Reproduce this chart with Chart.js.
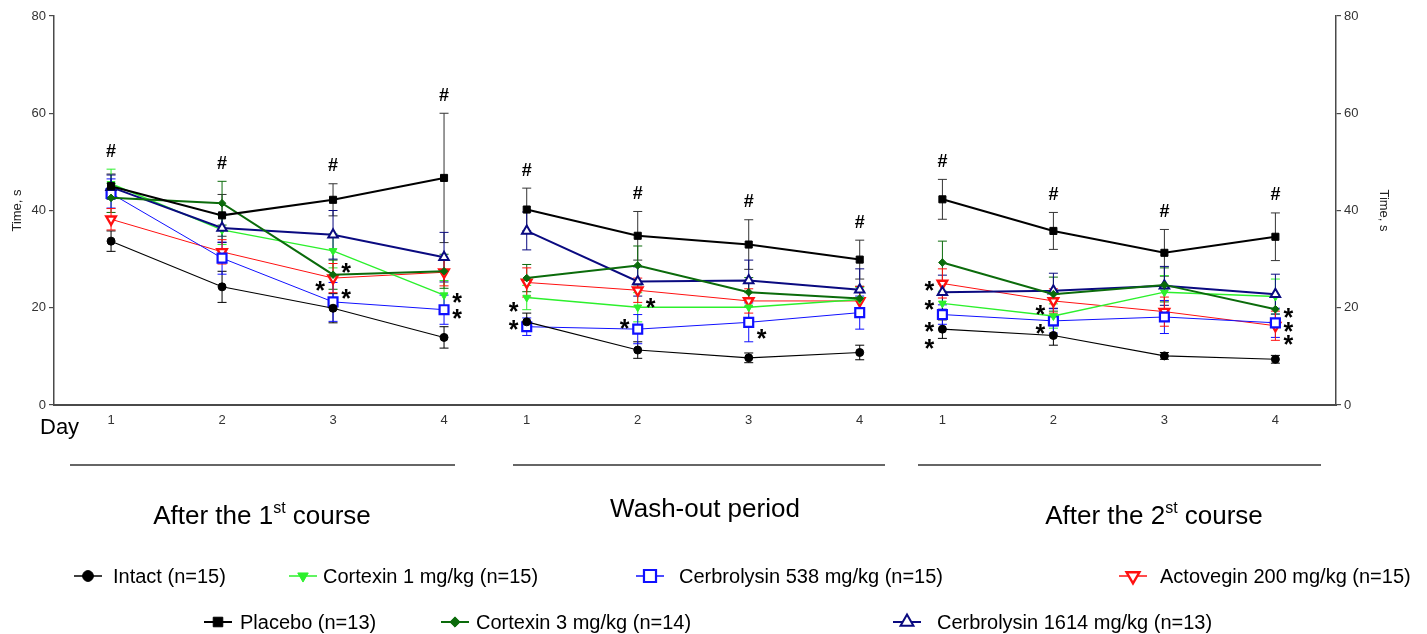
<!DOCTYPE html>
<html>
<head>
<meta charset="utf-8">
<script src="https://cdn.jsdelivr.net/npm/chart.js@4.4.1/dist/chart.umd.min.js"></script>
<style>
  html, body { margin: 0; padding: 0; background: #fff; }
  #wrap { position: relative; width: 1427px; height: 634px; }
</style>
</head>
<body>
<div id="wrap"><canvas id="chart" width="1427" height="634"></canvas></div>
<script>
// ===== data (3 periods x 4 days) =====
const days = [1, 2, 3, 4];
const periods = [
    ['After the 1', 'st', ' course'],
    ['Wash-out period', '', ''],
    ['After the 2', 'st', ' course']
];

const intact       = [33.7, 24.3, 19.9, 13.9, 17.1, 11.3, 9.7, 10.8, 15.6, 14.3, 10.1, 9.4];
const intactSE     = [2.1, 3.2, 3.0, 2.2, 1.8, 1.7, 1.0, 1.5, 1.9, 2.0, 0.7, 0.8];
const placebo      = [45.0, 39.0, 42.2, 46.7, 40.2, 34.8, 33.0, 29.9, 42.3, 35.8, 31.3, 34.6];
const placeboSE    = [2.5, 4.3, 3.3, 13.3, 4.4, 5.0, 5.1, 4.0, 4.1, 3.8, 4.8, 4.9];
const cortexin1    = [45.5, 36.0, 31.7, 22.6, 22.1, 20.1, 20.1, 21.7, 20.9, 18.3, 23.2, 22.3];
const cortexin1SE  = [3.0, 3.0, 3.5, 3.0, 2.5, 3.0, 3.0, 2.5, 2.5, 2.5, 3.4, 3.6];
const cortexin3    = [42.6, 41.5, 26.8, 27.5, 26.1, 28.7, 23.2, 21.9, 29.3, 22.8, 24.7, 19.7];
const cortexin3SE  = [3.0, 4.5, 3.0, 3.5, 2.8, 4.0, 3.0, 2.5, 4.4, 3.5, 3.5, 3.0];
const cerb538      = [43.5, 30.2, 21.2, 19.6, 16.1, 15.6, 17.0, 19.0, 18.6, 17.3, 18.1, 16.9];
const cerb538SE    = [3.0, 3.3, 4.0, 3.0, 1.8, 3.0, 4.0, 3.4, 2.0, 2.5, 3.4, 3.0];
const cerb1614     = [44.8, 36.4, 35.0, 30.4, 35.8, 25.4, 25.6, 23.7, 23.2, 23.5, 24.5, 22.8];
const cerb1614SE   = [2.5, 3.0, 5.0, 5.1, 3.9, 3.0, 4.2, 4.3, 3.5, 3.6, 4.0, 4.1];
const actovegin    = [38.2, 31.5, 26.1, 27.3, 25.2, 23.6, 21.4, 21.4, 25.0, 21.4, 19.2, 16.3];
const actoveginSE  = [2.2, 2.5, 3.0, 2.8, 3.0, 2.5, 2.5, 3.0, 3.0, 2.5, 3.0, 3.0];

// significance marks vs placebo: [period, day, value, side]
const stars = [
    [0, 3, 28.4, 1], [0, 3, 24.7, -1], [0, 3, 23.0, 1],
    [0, 4, 22.2, 1], [0, 4, 18.9, 1],
    [1, 1, 20.4, -1], [1, 1, 16.7, -1],
    [1, 2, 21.2, 1], [1, 2, 16.9, -1],
    [1, 3, 14.8, 1],
    [2, 1, 24.7, -1], [2, 1, 20.8, -1], [2, 1, 16.2, -1], [2, 1, 12.8, -1],
    [2, 2, 19.7, -1], [2, 2, 15.8, -1],
    [2, 4, 19.1, 1], [2, 4, 16.2, 1], [2, 4, 13.6, 1]
];

// ===== series styling =====
const series = [
    { label: 'Intact (n=15)', data: intact, se: intactSE, color: '#000000', fill: '#000000', style: 'circle', rot: 0, r: 4, bw: 1, lw: 1.1, order: 1 },
    { label: 'Placebo (n=13)', data: placebo, se: placeboSE, color: '#000000', fill: '#000000', style: 'rect', rot: 0, r: 5, bw: 1, lw: 2, order: 0, bar: '#333333' },
    { label: 'Cortexin 1 mg/kg (n=15)', data: cortexin1, se: cortexin1SE, color: '#2cf02c', fill: '#2cf02c', style: 'triangle', rot: 180, r: 4.5, bw: 1, lw: 1.4, order: 1 },
    { label: 'Cortexin 3 mg/kg (n=14)', data: cortexin3, se: cortexin3SE, color: '#0b6b0b', fill: '#0b6b0b', style: 'rectRot', rot: 0, r: 3.8, bw: 1, lw: 2, order: 0 },
    { label: 'Cerbrolysin 538 mg/kg (n=15)', data: cerb538, se: cerb538SE, color: '#1010ff', fill: '#ffffff', style: 'rect', rot: 0, r: 6.3, bw: 2.2, lw: 1, order: 1 },
    { label: 'Cerbrolysin 1614 mg/kg (n=13)', data: cerb1614, se: cerb1614SE, color: '#0a0a80', fill: '#ffffff', style: 'triangle', rot: 0, r: 5.5, bw: 2, lw: 2, order: 0 },
    { label: 'Actovegin 200 mg/kg (n=15)', data: actovegin, se: actoveginSE, color: '#ff1010', fill: '#ffffff', style: 'triangle', rot: 180, r: 5.5, bw: 2.4, lw: 1, order: 1 }
];

// legend layout: [series index, marker x, text x, row y]
const legendItems = [
    [0, 88, 113, 576], [2, 303, 323, 576], [4, 650, 679, 576], [6, 1133, 1160, 576],
    [1, 218, 240, 622], [3, 455, 476, 622], [5, 907, 937, 622]
];

const GROUP_SPAN = 3.745;
const xOf = (g, d) => g * GROUP_SPAN + (d - 1);
const tickXs = [];
periods.forEach((_, g) => days.forEach(d => tickXs.push(xOf(g, d))));

function toPoints(arr) {
    const pts = [];
    periods.forEach((_, g) => {
        days.forEach((d, k) => pts.push({ x: xOf(g, d), y: arr[g * days.length + k] }));
        if (g < periods.length - 1) pts.push({ x: xOf(g, 4.5), y: null });
    });
    return pts;
}

const FONT = '"Liberation Sans", Arial, Helvetica, sans-serif';
Chart.defaults.font.family = FONT;

function drawMarker(ctx, s, x, y, scale) {
    ctx.save();
    ctx.fillStyle = s.fill;
    ctx.strokeStyle = s.color;
    ctx.lineWidth = s.bw;
    Chart.helpers.drawPoint(ctx, { pointStyle: s.style, rotation: s.rot, radius: s.r * scale, borderWidth: s.bw }, x, y);
    ctx.restore();
}

const extras = {
    id: 'extras',
    beforeDatasetsDraw(chart) {
        // error bars (mean +/- SEM)
        const { ctx, scales: { x, y } } = chart;
        ctx.save();
        ctx.lineWidth = 1;
        series.forEach(s => {
            ctx.strokeStyle = s.bar || s.color;
            s.data.forEach((v, i) => {
                const g = Math.floor(i / 4), d = days[i % 4];
                const px = x.getPixelForValue(xOf(g, d));
                const yt = y.getPixelForValue(v + s.se[i]);
                const yb = y.getPixelForValue(v - s.se[i]);
                ctx.beginPath();
                ctx.moveTo(px, yt); ctx.lineTo(px, yb);
                ctx.moveTo(px - 4.5, yt); ctx.lineTo(px + 4.5, yt);
                ctx.moveTo(px - 4.5, yb); ctx.lineTo(px + 4.5, yb);
                ctx.stroke();
            });
        });
        ctx.restore();
    },
    afterDatasetsDraw(chart) {
        const { ctx, scales: { x, y } } = chart;
        ctx.save();
        ctx.fillStyle = '#000';
        ctx.textAlign = 'center';
        // '#' above each time point
        ctx.font = 'bold 18px ' + FONT;
        tickXs.forEach((xv, i) => {
            const top = Math.max(...series.map(s => s.data[i] + s.se[i]));
            ctx.fillText('#', x.getPixelForValue(xv), y.getPixelForValue(top) - 19 + 6.5);
        });
        // '*' marks
        ctx.font = 'bold 25px ' + FONT;
        stars.forEach(([g, d, v, side]) => {
            const px = x.getPixelForValue(xOf(g, d)) + side * 13;
            ctx.fillText('*', px, y.getPixelForValue(v) + 14);
        });
        ctx.restore();
    },
    afterDraw(chart) {
        const { ctx } = chart;
        ctx.save();
        ctx.fillStyle = '#000';
        ctx.textBaseline = 'alphabetic';
        ctx.textAlign = 'left';
        ctx.font = '22px ' + FONT;
        ctx.fillText('Day', 40, 434);

        // period underlines
        ctx.strokeStyle = '#333';
        ctx.lineWidth = 1.5;
        [[70, 455], [513, 885], [918, 1321]].forEach(([a, b]) => {
            ctx.beginPath(); ctx.moveTo(a, 465); ctx.lineTo(b, 465); ctx.stroke();
        });

        // period titles with superscript
        const centers = [262, 705, 1154];
        const bases = [524, 517, 524];
        periods.forEach((p, g) => {
            ctx.font = '26px ' + FONT;
            const w0 = ctx.measureText(p[0]).width;
            const w2 = ctx.measureText(p[2]).width;
            ctx.font = '16px ' + FONT;
            const w1 = ctx.measureText(p[1]).width;
            let xx = centers[g] - (w0 + w1 + w2) / 2;
            ctx.font = '26px ' + FONT;
            ctx.fillText(p[0], xx, bases[g]);
            xx += w0;
            ctx.font = '16px ' + FONT;
            ctx.fillText(p[1], xx, bases[g] - 11);
            xx += w1;
            ctx.font = '26px ' + FONT;
            ctx.fillText(p[2], xx, bases[g]);
        });

        // legend
        ctx.textBaseline = 'middle';
        ctx.font = '20px ' + FONT;
        legendItems.forEach(([si, mx, tx, ly]) => {
            const s = series[si];
            ctx.strokeStyle = s.color;
            ctx.lineWidth = Math.max(s.lw, 1.5);
            ctx.beginPath(); ctx.moveTo(mx - 14, ly); ctx.lineTo(mx + 14, ly); ctx.stroke();
            drawMarker(ctx, s, mx, ly, 1.35);
            ctx.fillStyle = '#000';
            ctx.fillText(s.label, tx, ly + 1);
        });
        ctx.restore();
    }
};

const datasets = series.map(s => ({
    label: s.label,
    data: toPoints(s.data),
    borderColor: s.color,
    borderWidth: s.lw,
    backgroundColor: s.fill,
    pointStyle: s.style,
    pointRotation: s.rot,
    pointRadius: s.r,
    pointBackgroundColor: s.fill,
    pointBorderColor: s.color,
    pointBorderWidth: s.bw,
    tension: 0,
    spanGaps: false,
    order: s.order,
    yAxisID: 'y'
}));
// invisible dataset so the right-hand axis is laid out
datasets.push({ data: [], yAxisID: 'y1', showLine: false, pointRadius: 0 });

const axisColor = '#4a4a4a';
new Chart(document.getElementById('chart'), {
    type: 'line',
    data: { datasets },
    options: {
        responsive: false,
        animation: false,
        devicePixelRatio: 1,
        layout: { padding: { top: 16, left: 0, right: 0, bottom: 0 } },
        plugins: { legend: { display: false }, tooltip: { enabled: false } },
        scales: {
            x: {
                type: 'linear',
                min: -0.514,
                max: 11.036,
                afterBuildTicks: scale => { scale.ticks = tickXs.map(v => ({ value: v })); },
                afterFit: scale => { scale.height = 229; },
                ticks: {
                    autoSkip: false, maxRotation: 0, padding: 8,
                    color: '#333', font: { size: 13 },
                    callback: (v, i) => String(days[i % days.length])
                },
                grid: { display: true, drawOnChartArea: false, drawTicks: false },
                border: { display: true, color: axisColor, width: 2 }
            },
            y: {
                position: 'left',
                min: 0, max: 80,
                afterFit: scale => { scale.width = 54; },
                ticks: { stepSize: 20, color: '#333', font: { size: 13 }, padding: 3 },
                grid: { display: true, drawOnChartArea: false, drawTicks: true, tickLength: 5, color: axisColor, lineWidth: 1.2 },
                border: { display: true, color: axisColor, width: 1.5 },
                title: { display: true, text: 'Time, s', color: '#222', font: { size: 13 }, padding: { top: 10, bottom: 0 } }
            },
            y1: {
                position: 'right',
                min: 0, max: 80,
                afterFit: scale => { scale.width = 91; },
                ticks: { stepSize: 20, color: '#333', font: { size: 13 }, padding: 3 },
                grid: { display: true, drawOnChartArea: false, drawTicks: true, tickLength: 5, color: axisColor, lineWidth: 1.2 },
                border: { display: true, color: axisColor, width: 1.5 },
                title: { display: true, text: 'Time, s', color: '#222', font: { size: 13 }, padding: { top: 36, bottom: 0 } }
            }
        }
    },
    plugins: [extras]
});
</script>
</body>
</html>
